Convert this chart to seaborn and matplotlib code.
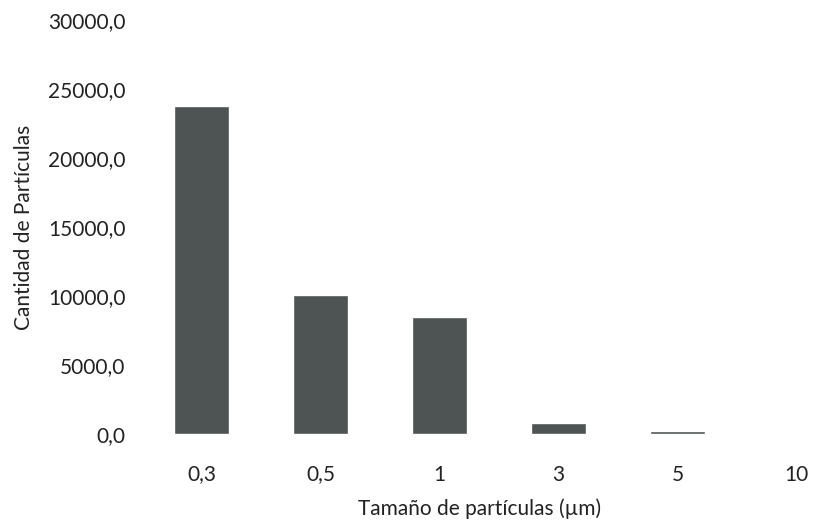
import matplotlib
matplotlib.use("Agg")
import matplotlib.pyplot as plt
import seaborn as sns
import pandas as pd

categories = ["0,3", "0,5", "1", "3", "5", "10"]
values = [23800, 10100, 8500, 800, 200, 0]
yticks = [0, 5000, 10000, 15000, 20000, 25000, 30000]
ytick_labels = ["0,0", "5000,0", "10000,0", "15000,0", "20000,0", "25000,0", "30000,0"]

sns.set_theme(style="white")
plt.rcParams['font.family'] = ['Lato', 'DejaVu Sans']

df = pd.DataFrame({"size": categories, "count": values})

fig = plt.figure(figsize=(8.17, 5.24), dpi=100)
ax = fig.add_axes([142/817, 90/524, (817-142)/817, 414/524])
sns.barplot(data=df, x="size", y="count", color="#4e5353", width=0.46,
            saturation=1, ax=ax, order=categories)
ax.set_ylim(0, 30000)
ax.set_xlim(-0.5, 5.17)
ax.set_yticks(yticks)
ax.set_yticklabels(ytick_labels, fontsize=15, color="#222222")
ax.tick_params(axis='x', labelsize=15, pad=22, length=0, colors="#222222")
ax.tick_params(axis='y', pad=12, length=0)
for s in ax.spines.values():
    s.set_visible(False)
ax.set_xlabel("Tamaño de partículas (µm)", fontsize=15, color="#222222", labelpad=10)
ax.set_ylabel("Cantidad de Partículas", fontsize=15, color="#222222", labelpad=10)
ax.grid(False)
fig.savefig("out.png", dpi=100, facecolor="white")
